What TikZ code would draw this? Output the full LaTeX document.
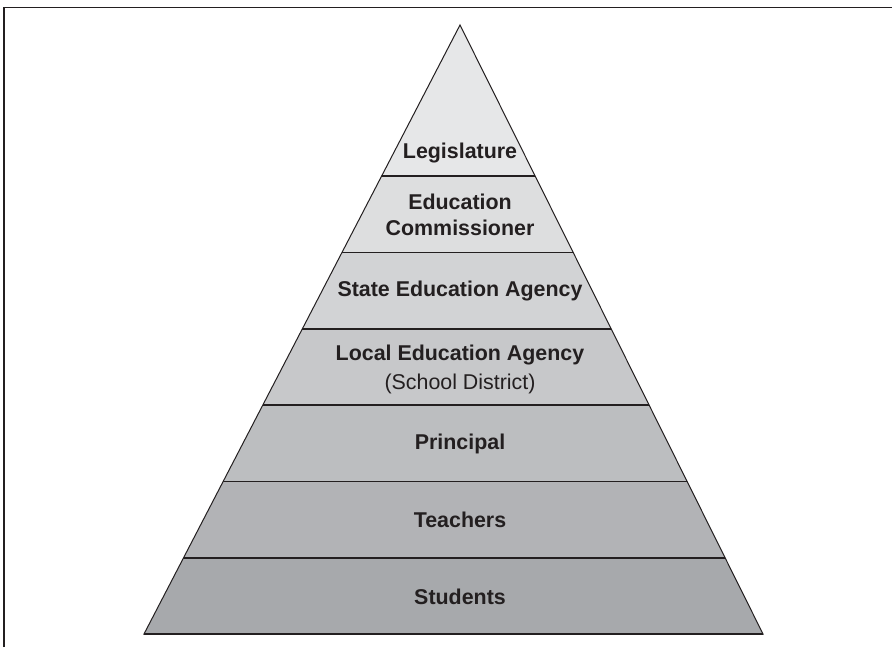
\documentclass[tikz,border=0pt]{standalone}
\usepackage{fontspec}
\setsansfont{Liberation Sans}
\usetikzlibrary{positioning}

\definecolor{band1}{HTML}{E6E7E8}
\definecolor{band2}{HTML}{DDDEDF}
\definecolor{band3}{HTML}{D2D3D5}
\definecolor{band4}{HTML}{C7C8CA}
\definecolor{band5}{HTML}{BCBEC0}
\definecolor{band6}{HTML}{B2B3B6}
\definecolor{band7}{HTML}{A7A9AC}
\definecolor{ink}{HTML}{231F20}

\begin{document}
\begin{tikzpicture}[x=0.5pt,y=-0.5pt]
\tikzset{L/.style={font=\sffamily\bfseries\fontsize{10.7}{13}\selectfont,text=ink,align=center,inner sep=0pt}}
\tikzset{S/.style={font=\sffamily\fontsize{10.7}{13}\selectfont,text=ink,inner sep=0pt}}

  \useasboundingbox (0,0) rectangle (892,647);
  \draw[ink,line width=0.9pt] (4,647) -- (4,7.5) -- (892,7.5);

  \coordinate (top) at (460,25);
  \coordinate (bl) at (144,634);
  \coordinate (br) at (763,634);

  \begin{scope}
  \clip (top) -- (bl) -- (br) -- cycle;
  \foreach \ya/\yb/\c in {0/176/band1,176/252.3/band2,252.3/328.7/band3,
      328.7/405/band4,405/481.3/band5,481.3/557.7/band6,557.7/640/band7}
    \fill[\c] (100,\ya) rectangle (800,\yb);
  \foreach \y in {176,252.3,328.7,405,481.3,557.7}
    \draw[ink,line width=0.8pt] (100,\y) -- (800,\y);
  \end{scope}
  \draw[ink,line width=0.5pt,line join=miter] (top) -- (bl) -- (br) -- cycle;
  \draw[ink,line width=0.8pt] (bl) -- (br);

  \node[L] (leg) at (460,153) {Legislature};
  \node[L] (com) at (460,215) {Education\\Commissioner};
  \node[L] (sea) at (460,291) {State Education Agency};
  \node[L] (lea) at (460,355) {Local Education Agency};
  \node[S,below=4pt of lea] (dist) {(School District)};
  \node[L] (pri) at (460,444) {Principal};
  \node[L] (tea) at (460,520) {Teachers};
  \node[L] (stu) at (460,597) {Students};
\end{tikzpicture}
\end{document}
